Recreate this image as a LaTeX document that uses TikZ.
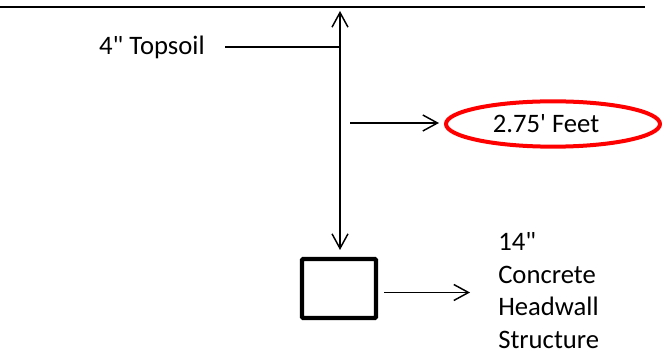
\documentclass[tikz,border=0pt]{standalone}
\usepackage{fontspec}
\setmainfont{Carlito}[Ligatures=TeXOff]
\usetikzlibrary{arrows.meta,shapes.geometric}
\begin{document}
\begin{tikzpicture}[x=0.75pt,y=-0.75pt,
  lbl/.style={font=\fontsize{20}{24.3}\selectfont, inner sep=0pt},
  conn/.style={line width=1.1pt, -{Straight Barb[length=11pt,width=12pt,line width=1.1pt]}},
  plain/.style={line width=1.1pt}]
\useasboundingbox (0,0) rectangle (662,356);
% ground line
\coordinate (gl) at (0,7);
\coordinate (gr) at (645,7);
\draw[line width=1.5pt] (gl) -- (gr);
% vertical dimension
\coordinate (vtop) at (340,11);
\coordinate (vbot) at (340,250);
\draw[line width=1.1pt, {Straight Barb[length=11pt,width=12pt,line width=1.1pt]}-{Straight Barb[length=11pt,width=12pt,line width=1.1pt]}] (vtop) -- (vbot);
% topsoil
\node[lbl, anchor=east] (topsoil) at (205,47) {4" Topsoil};
\coordinate (tsend) at (340,47);
\draw[plain] ([xshift=15pt]topsoil.east) -- (tsend);
% feet ellipse
\node[ellipse, draw=red, line width=3pt, minimum width=160.5pt, minimum height=34pt, inner sep=0pt, lbl] (feet) at (553,124) {2.75' Feet\kern10.5pt};
\coordinate (fstart) at (350,123);
\draw[conn] (fstart) -- ([xshift=-3.75pt,yshift=0.75pt]feet.west);
% box
\node[draw, line width=3.3pt, minimum width=55.5pt, minimum height=44.25pt, inner sep=0pt, rounded corners=1pt] (box) at (339,288.5) {};
\node[lbl, anchor=west, align=left] (hw) at (498,290.5) {14"\\Concrete\\Headwall\\Structure};
\draw[conn] ([xshift=4.5pt,yshift=-3pt]box.east) -- ([xshift=-21pt,yshift=-1.5pt]hw.west);
\end{tikzpicture}
\end{document}
